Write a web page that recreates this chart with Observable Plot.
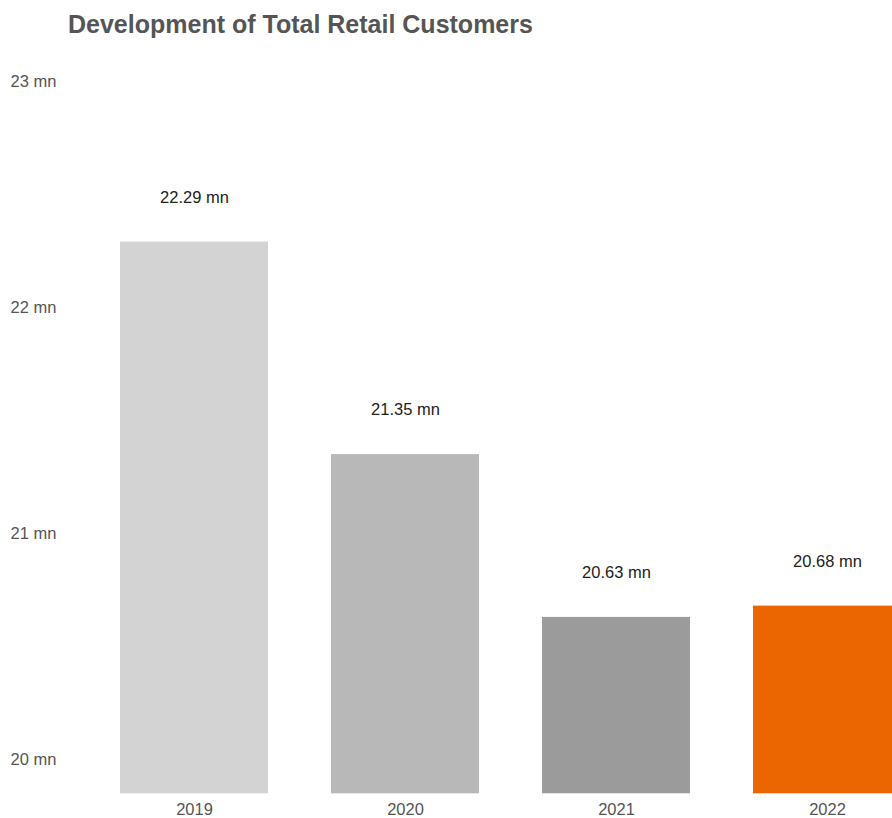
<!DOCTYPE html>
<html>
<head>
<meta charset="utf-8">
<script src="https://cdn.jsdelivr.net/npm/d3@7"></script>
<script src="https://cdn.jsdelivr.net/npm/@observablehq/plot@0.6"></script>
<style>
  html, body { margin: 0; padding: 0; background: #fff; overflow: hidden; width: 892px; height: 818px; }
  #title { box-sizing: border-box; height: 52px; padding: 12px 0 0 68px; font: bold 25px/25px "Liberation Sans", Arial, Helvetica, sans-serif; color: #555; white-space: nowrap; }
  #chart svg { overflow: hidden; display: block; }
</style>
</head>
<body>
<div id="title">Development of Total Retail Customers</div>
<div id="chart"></div>
<script>
const years = ["2019", "2020", "2021", "2022"];
const customers = [22.29, 21.35, 20.63, 20.68];
const barColors = ["#d3d3d3", "#b8b8b8", "#9b9b9b", "#eb6600"];
const yTicks = [20, 21, 22, 23];
const yMin = 19.85;

const data = years.map((year, i) => ({year, value: customers[i]}));

const chart = Plot.plot({
  width: 892,
  height: 766,
  marginLeft: 0,
  marginRight: 0,
  marginTop: 0,
  marginBottom: 25,
  style: {fontFamily: '"Liberation Sans", Arial, Helvetica, sans-serif', background: "#fff", overflow: "hidden"},
  x: {domain: years, range: [55.8, 965], padding: 0.3, label: null},
  y: {domain: [yMin, 23], range: [741.3, 29], label: null},
  color: {domain: years, range: barColors},
  marks: [
    Plot.rectY(data, {x: "year", y1: yMin, y2: "value", fill: "year"}),
    Plot.text(data, {x: "year", y: "value", text: d => `${d.value.toFixed(2)} mn`, dy: -44.5, fontSize: 16.5, fill: "#222"}),
    Plot.axisX({tickSize: 0, tickPadding: 10, fontSize: 16.5, color: "#555", label: null}),
    Plot.axisY({ticks: yTicks, tickSize: 0, tickPadding: -10, textAnchor: "start", fontSize: 16.5, color: "#555", tickFormat: d => `${d} mn`, label: null})
  ]
});
document.getElementById("chart").appendChild(chart);
</script>
</body>
</html>
